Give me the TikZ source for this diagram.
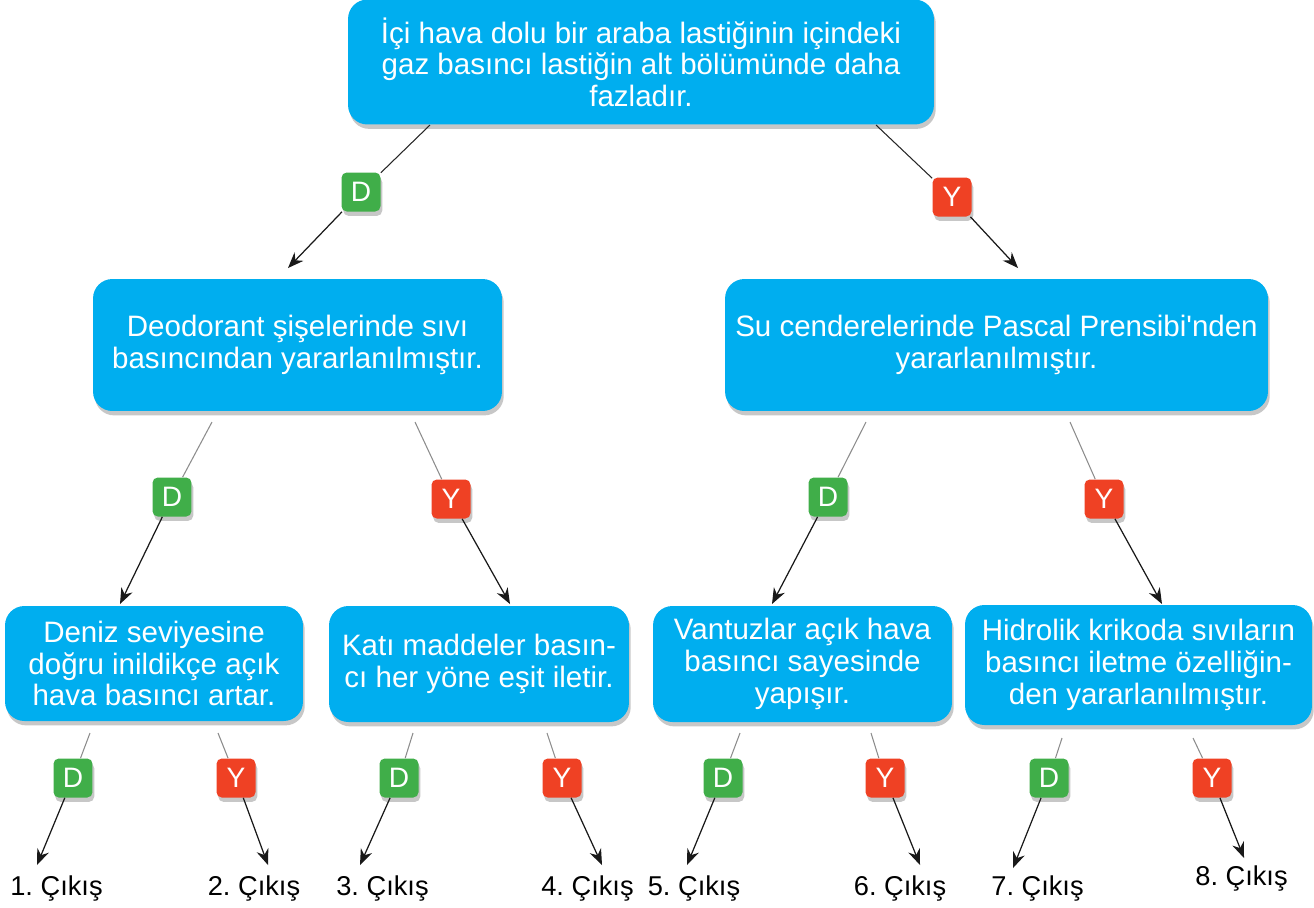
\documentclass[tikz,border=0pt]{standalone}
\usepackage{fontspec}
\setmainfont{Liberation Sans}
\usetikzlibrary{arrows.meta,shadows}
\definecolor{boxblue}{RGB}{0,174,239}
\definecolor{tagD}{RGB}{64,174,73}
\definecolor{tagY}{RGB}{239,65,36}
\frenchspacing

\tikzset{
  golge/.style={drop shadow={shadow xshift=1pt,shadow yshift=-2.5pt,opacity=0.22,fill=black}},
  soru/.style={fill=boxblue,rounded corners=11pt,text=white,align=center,inner sep=0pt,
    font=\fontsize{16.8}{18}\selectfont,golge},
  etiket/.style={rounded corners=3pt,text=white,minimum size=0.78cm,inner sep=0pt,
    font=\fontsize{16}{16}\selectfont,golge},
  dogru/.style={etiket,fill=tagD},
  yanlis/.style={etiket,fill=tagY},
  sap/.style={line width=0.6pt,black!45},
  ok/.style={line width=0.7pt,black!90,-{Stealth[length=9pt,width=7pt]}},
  cikis/.style={anchor=base,font=\fontsize{15.5}{16}\selectfont}
}

\begin{document}
\begin{tikzpicture}[x=0.02cm,y=-0.02cm,line join=round]
  \useasboundingbox (0,0) rectangle (1314,907);
  \node[soru,minimum width=11.72cm,minimum height=2.5cm] (S0) at (641,62)
    {İçi hava dolu bir araba lastiğinin içindeki\\gaz basıncı lastiğin alt bölümünde daha\\fazladır.};
  \node[soru,minimum width=8.18cm,minimum height=2.64cm] (SL) at (297.5,345)
    {Deodorant şişelerinde sıvı\\basıncından yararlanılmıştır.};
  \node[soru,minimum width=10.86cm,minimum height=2.64cm] (SR) at (996.5,345)
    {Su cenderelerinde Pascal Prensibi\textquotesingle nden\\yararlanılmıştır.};
  \node[soru,minimum width=5.96cm,minimum height=2.3cm] (SLL) at (154,663.5)
    {Deniz seviyesine\\doğru inildikçe açık\\hava basıncı artar.};
  \node[soru,minimum width=6cm,minimum height=2.32cm] (SLR) at (479,664)
    {Katı maddeler basın-\\cı her yöne eşit iletir.};
  \node[soru,minimum width=5.98cm,minimum height=2.32cm] (SRL) at (802.5,664)
    {Vantuzlar açık hava\\basıncı sayesinde\\yapışır.};
  \node[soru,minimum width=6.94cm,minimum height=2.4cm] (SRR) at (1138.5,665)
    {Hidrolik krikoda sıvıların\\basıncı iletme özelliğin-\\den yararlanılmıştır.};

  \coordinate (A0) at (430,125);
  \coordinate (B0) at (876,125);
  \coordinate (A1) at (212,422);
  \coordinate (B1) at (415,422);
  \coordinate (A2) at (866,422);
  \coordinate (B2) at (1070,422);
  \coordinate (A3) at (90,733);
  \coordinate (B3) at (218,733);
  \coordinate (A4) at (413,733);
  \coordinate (B4) at (547,733);
  \coordinate (A5) at (740,733);
  \coordinate (B5) at (871,733);
  \coordinate (A6) at (1062,738);
  \coordinate (B6) at (1193,738);

  \coordinate (UL) at (288,268);
  \coordinate (UR) at (1018,268);
  \coordinate (U1) at (120,604);
  \coordinate (U2) at (510,604);
  \coordinate (U3) at (772,604);
  \coordinate (U4) at (1162,604);
  \coordinate (E1) at (37,865);
  \coordinate (E2) at (268,865);
  \coordinate (E3) at (360,865);
  \coordinate (E4) at (602,865);
  \coordinate (E5) at (687,865);
  \coordinate (E6) at (920,865);
  \coordinate (E7) at (1013,868);
  \coordinate (E8) at (1244,858);

  \node[dogru] (D0) at (361,192) {D};
  \node[yanlis] (Y0) at (952,197) {Y};
  \node[dogru] (D1) at (172,497) {D};
  \node[yanlis] (Y1) at (451,499) {Y};
  \node[dogru] (D2) at (828,497) {D};
  \node[yanlis] (Y2) at (1104,499) {Y};
  \node[dogru] (D3) at (73,778) {D};
  \node[yanlis] (Y3) at (236,778) {Y};
  \node[dogru] (D4) at (399,778) {D};
  \node[yanlis] (Y4) at (562,778) {Y};
  \node[dogru] (D5) at (723,778) {D};
  \node[yanlis] (Y5) at (885,778) {Y};
  \node[dogru] (D6) at (1049,778) {D};
  \node[yanlis] (Y6) at (1212,778) {Y};

  \draw[sap,black!85] (A0) -- (D0);
  \draw[sap,black!85] (B0) -- (Y0);
  \draw[sap] (A1) -- (D1);
  \draw[sap] (B1) -- (Y1);
  \draw[sap] (A2) -- (D2);
  \draw[sap] (B2) -- (Y2);
  \draw[sap] (A3) -- (D3);
  \draw[sap] (B3) -- (Y3);
  \draw[sap] (A4) -- (D4);
  \draw[sap] (B4) -- (Y4);
  \draw[sap] (A5) -- (D5);
  \draw[sap] (B5) -- (Y5);
  \draw[sap] (A6) -- (D6);
  \draw[sap] (B6) -- (Y6);

  \draw[ok] (D0) -- (UL);
  \draw[ok] (Y0) -- (UR);
  \draw[ok] (D1) -- (U1);
  \draw[ok] (Y1) -- (U2);
  \draw[ok] (D2) -- (U3);
  \draw[ok] (Y2) -- (U4);
  \draw[ok] (D3) -- (E1);
  \draw[ok] (Y3) -- (E2);
  \draw[ok] (D4) -- (E3);
  \draw[ok] (Y4) -- (E4);
  \draw[ok] (D5) -- (E5);
  \draw[ok] (Y5) -- (E6);
  \draw[ok] (D6) -- (E7);
  \draw[ok] (Y6) -- (E8);

  \node[cikis] (C1) at (56.5,895) {1. Çıkış};
  \node[cikis] (C2) at (254,895) {2. Çıkış};
  \node[cikis] (C3) at (382.5,895) {3. Çıkış};
  \node[cikis] (C4) at (587.5,895) {4. Çıkış};
  \node[cikis] (C5) at (694,895) {5. Çıkış};
  \node[cikis] (C6) at (900,895) {6. Çıkış};
  \node[cikis] (C7) at (1037.5,895) {7. Çıkış};
  \node[cikis] (C8) at (1241.5,885) {8. Çıkış};
\end{tikzpicture}
\end{document}
